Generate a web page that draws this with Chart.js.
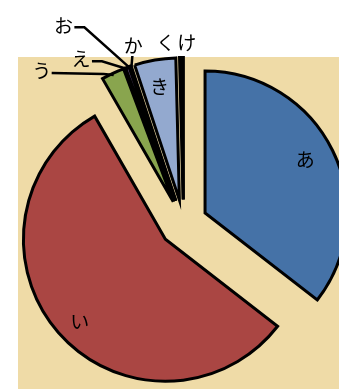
<!DOCTYPE html>
<html>
<head>
<meta charset="utf-8">
<script src="https://cdn.jsdelivr.net/npm/chart.js@4.4.1/dist/chart.umd.min.js"></script>
<style>
    html, body { margin: 0; padding: 0; background: #fff; }
    #wrap { width: 339px; height: 389px; }
</style>
</head>
<body>
<div id="wrap"><canvas id="myChart"></canvas></div>
<script>
const labels = ['あ', 'い', 'う', 'え', 'お', 'か', 'き', 'く', 'け'];
const shares = [35.5, 56.2, 2.6, 0.4, 0.1, 0.1, 4.7, 0.25, 0.15];
const colors = ['#4572A7', '#AA4643', '#89A54E', '#71588F', '#4198AF', '#DB843D', '#93A9CF', '#D19392', '#B9CD96'];

const EXPLODE = 24;
const FONT = '19px "Noto Sans CJK JP", "Noto Sans", sans-serif';

// labels drawn inside the slice: fraction of radius, angle nudge (deg)
const insideLabels = { 0: [0.80, -2], 1: [0.84, -3], 6: [0.81, 0] };
// labels outside: offset from the slice's outer edge midpoint, and leader style
const outsideLabels = {
    2: { dx: -72, dy: -4, leader: 'elbowLong' },
    3: { dx: -47, dy: -10, leader: 'elbow' },
    4: { dx: -67, dy: -43, leader: 'elbow' },
    5: { dx: 2, dy: -22, leader: 'down' },
    7: { dx: -15, dy: -17 },
    8: { dx: 4, dy: -17 }
};

const sliceGeom = (arc) => {
    const mid = (arc.startAngle + arc.endAngle) / 2;
    return {
        mid,
        cx: arc.x + Math.cos(mid) * EXPLODE,
        cy: arc.y + Math.sin(mid) * EXPLODE,
        r: arc.outerRadius
    };
};

// plot area paper
const paperPlugin = {
    id: 'paper',
    beforeDraw(chart) {
        const ctx = chart.ctx;
        ctx.save();
        ctx.fillStyle = '#EFDBA7';
        ctx.fillRect(18, 57, 321, 332);
        ctx.restore();
    }
};

// draw each slice pushed out along its middle angle
const explodePlugin = {
    id: 'explode',
    beforeDatasetDraw(chart, args) {
        const ctx = chart.ctx;
        args.meta.data.forEach(arc => {
            const mid = (arc.startAngle + arc.endAngle) / 2;
            ctx.save();
            ctx.translate(Math.cos(mid) * EXPLODE, Math.sin(mid) * EXPLODE);
            arc.draw(ctx);
            ctx.restore();
        });
        return false;
    }
};

const labelPlugin = {
    id: 'sliceLabels',
    afterDatasetsDraw(chart) {
        const ctx = chart.ctx;
        const arcs = chart.getDatasetMeta(0).data;
        ctx.save();
        ctx.font = FONT;
        ctx.fillStyle = '#000';
        ctx.strokeStyle = '#000';
        ctx.lineWidth = 2.5;
        ctx.textAlign = 'center';
        ctx.textBaseline = 'middle';
        arcs.forEach((arc, i) => {
            const g = sliceGeom(arc);
            if (insideLabels[i]) {
                const [frac, nudge] = insideLabels[i];
                const a = g.mid + nudge * Math.PI / 180;
                ctx.fillText(labels[i], g.cx + Math.cos(a) * g.r * frac, g.cy + Math.sin(a) * g.r * frac);
                return;
            }
            const o = outsideLabels[i];
            if (!o) return;
            const ex = g.cx + Math.cos(g.mid) * (g.r - 2);
            const ey = g.cy + Math.sin(g.mid) * (g.r - 2);
            const lx = ex + o.dx, ly = ey + o.dy;
            ctx.fillText(labels[i], lx, ly);
            if (o.leader) {
                ctx.beginPath();
                if (o.leader === 'down') {
                    ctx.moveTo(lx - 1, ly + 10);
                } else if (o.leader === 'elbowLong') {
                    ctx.moveTo(lx + 10, ly + 2);
                    ctx.lineTo(ex - 10, ly + 3);
                } else {
                    ctx.moveTo(lx + 11, ly + 2);
                    ctx.lineTo(lx + 21, ly + 2);
                }
                ctx.lineTo(ex, ey);
                ctx.stroke();
            }
        });
        ctx.restore();
    }
};

const ctx = document.getElementById('myChart');

new Chart(ctx, {
    type: 'pie',
    data: {
        labels: labels,
        datasets: [{
            data: shares,
            backgroundColor: colors,
            borderColor: '#000',
            borderWidth: 3,
            borderJoinStyle: 'miter'
        }]
    },
    options: {
        responsive: true,
        maintainAspectRatio: false,
        animation: false,
        radius: 142,
        layout: {
            padding: { left: 28, top: 58, right: 0, bottom: 0 }
        },
        plugins: {
            legend: { display: false },
            tooltip: { enabled: false }
        }
    },
    plugins: [paperPlugin, explodePlugin, labelPlugin]
});
</script>
</body>
</html>
